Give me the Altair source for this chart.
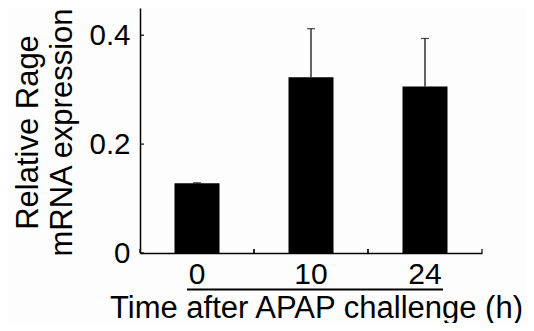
import altair as alt
import pandas as pd

# ---- data ----
times = ["0", "10", "24"]
means = [0.128, 0.323, 0.306]
errors = [0.001, 0.089, 0.088]
y_ticks = [0, 0.2, 0.4]
x_title = "Time after APAP challenge (h)"
y_title = ["Relative Rage", "mRNA expression"]

df = pd.DataFrame({"t": times, "mean": means, "err": errors})
df["upper"] = df["mean"] + df["err"]

FONT = "Liberation Sans"
W, H = 342, 245
INK = "black"

xscale = alt.Scale(domain=times, paddingInner=0, paddingOuter=0)
yscale = alt.Scale(domain=[0, 0.45], nice=False)

base = alt.Chart(df)

bars = base.mark_bar(color=INK, size=45).encode(
    x=alt.X(
        "t:N", scale=xscale, sort=times,
        axis=alt.Axis(
            title=x_title, labelAngle=0, ticks=False, tickSize=0,
            labelPadding=30.5, labelBaseline="alphabetic",
            labelFont=FONT, labelFontSize=30, labelColor=INK,
            domainColor=INK, domainWidth=1.5,
            titleFont=FONT, titleFontSize=31, titleFontWeight="normal",
            titleColor=INK, titleX=176, titleY=64, titleBaseline="alphabetic",
            titleAlign="center",
        ),
    ),
    y=alt.Y(
        "mean:Q", scale=yscale,
        axis=alt.Axis(
            title=y_title, values=y_ticks, format="~g", grid=False,
            ticks=False, tickSize=0, labelPadding=10,
            labelFont=FONT, labelFontSize=29.5, labelColor=INK,
            domainColor=INK, domainWidth=1.5,
            titleFont=FONT, titleFontSize=31, titleFontWeight="normal",
            titleColor=INK, titleAngle=270, titleX=-103, titleY=124,
            titleBaseline="alphabetic", titleAlign="center", titleLineHeight=34,
        ),
    ),
)

err_line = base.mark_rule(color=INK, strokeWidth=1.2).encode(
    x=alt.X("t:N"), y=alt.Y("mean:Q"), y2=alt.Y2("upper:Q")
)
err_cap = base.mark_tick(color=INK, size=8, thickness=1.2).encode(
    x=alt.X("t:N"), y=alt.Y("upper:Q")
)

# inward ticks on the y axis
ytick_df = pd.DataFrame({"v": y_ticks})
y_tick_marks = alt.Chart(ytick_df).mark_rule(color=INK, strokeWidth=1.2).encode(
    y=alt.Y("v:Q"), x=alt.value(0), x2=alt.value(4)
)

# inward ticks on the x axis, at band boundaries
x_tick_start = base.mark_rule(color=INK, strokeWidth=1.2).encode(
    x=alt.X("t:N", bandPosition=0), y=alt.value(H), y2=alt.value(H - 4)
)
x_tick_end = base.mark_rule(color=INK, strokeWidth=1.2).encode(
    x=alt.X("t:N", bandPosition=1), y=alt.value(H), y2=alt.value(H - 4)
)

# underline beneath the category labels
line_df = pd.DataFrame({"a": [times[0]], "b": [times[-1]]})
underline = alt.Chart(line_df).mark_rule(color=INK, strokeWidth=2).encode(
    x=alt.X("a:N", bandPosition=0.412),
    x2=alt.X2("b:N", bandPosition=0.658),
    y=alt.value(H + 36.5),
)

chart = alt.layer(
    bars, err_line, err_cap, y_tick_marks, x_tick_start, x_tick_end, underline
).properties(
    width=W, height=H,
    padding={"left": 132, "top": 0, "right": 44, "bottom": 70},
    autosize=alt.AutoSizeParams(type="none"),
    background="#fdfdfd",
).configure_view(stroke=None)

chart.save("out.html", embed_options={"renderer": "svg", "actions": False})
